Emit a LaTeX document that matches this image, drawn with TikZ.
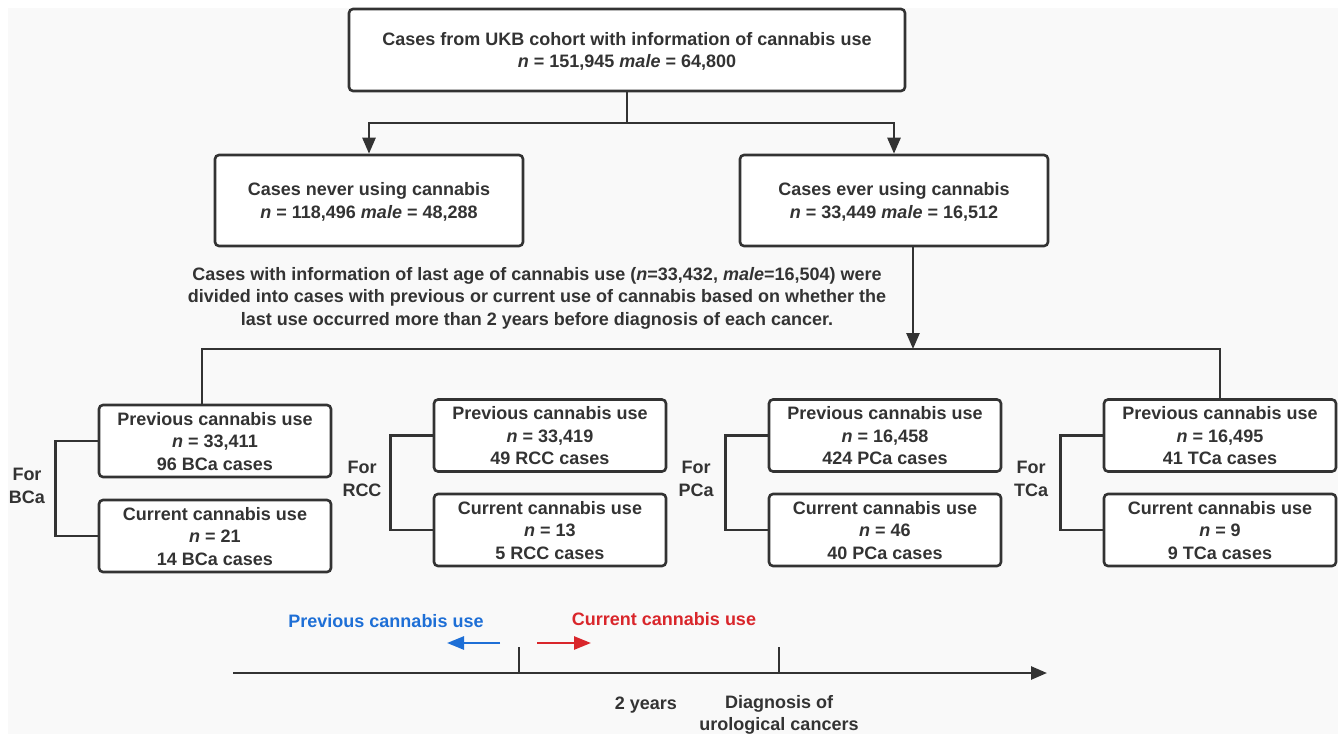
\documentclass[tikz,border=0pt]{standalone}
\usepackage{fontspec}
\setmainfont{Liberation Sans}
\usetikzlibrary{arrows.meta}
\definecolor{ink}{HTML}{333333}
\definecolor{bg}{HTML}{F9F9F9}
\definecolor{myblue}{HTML}{1E6FD6}
\definecolor{myred}{HTML}{D9262B}
\begin{document}
\begin{tikzpicture}[x=1pt,y=-1pt,
 box/.style={draw=ink, line width=2.6pt, rounded corners=4pt, fill=white, align=center, text=ink, font=\bfseries\fontsize{18}{22.5}\selectfont, inner sep=0pt, text depth=-7pt},
 conn/.style={draw=ink, line width=2.6pt},
 arr/.style={conn, -{Triangle[width=13pt,length=16pt]}},
 lbl/.style={text=ink, font=\bfseries\fontsize{18}{22.5}\selectfont, align=center, inner sep=0pt}]
\useasboundingbox (0,0) rectangle (1338,734);
\fill[white] (0,0) rectangle (1338,734);
\fill[bg] (8,8) rectangle (1338,734);
% top level
\node[box, minimum width=556pt, minimum height=82pt] (top) at (627,50) {Cases from UKB cohort with information of cannabis use\\\textit{n} = 151,945 \textit{male} = 64,800};
\node[box, minimum width=308pt, minimum height=91pt] (never) at (369,200.5) {Cases never using cannabis\\\textit{n} = 118,496 \textit{male} = 48,288};
\node[box, minimum width=308pt, minimum height=91pt] (ever) at (894,200.5) {Cases ever using cannabis\\\textit{n} = 33,449 \textit{male} = 16,512};
\coordinate (j1) at (627,123);
\draw[conn] (top.south) -- (j1);
\draw[arr] (j1) -| (never.north);
\draw[arr] (j1) -| (ever.north);
\node[lbl] (para) at (537,298) {Cases with information of last age of cannabis use (\textit{n}=33,432, \textit{male}=16,504) were\\divided into cases with previous or current use of cannabis based on whether the\\last use occurred more than 2 years before diagnosis of each cancer.};
\coordinate (j2) at (913,349);
\draw[arr] ([xshift=19pt]ever.south) -- (j2);
% second level
\node[box, minimum width=232pt, minimum height=72pt] (bp) at (215,441) {Previous cannabis use\\\textit{n} = 33,411\\96 BCa cases};
\node[box, minimum width=232pt, minimum height=72pt] (bc) at (215,536) {Current cannabis use\\\textit{n} = 21\\14 BCa cases};
\node[box, minimum width=232pt, minimum height=72pt] (rp) at (550,435.5) {Previous cannabis use\\\textit{n} = 33,419\\49 RCC cases};
\node[box, minimum width=232pt, minimum height=72pt] (rc) at (550,530) {Current cannabis use\\\textit{n} = 13\\5 RCC cases};
\node[box, minimum width=232pt, minimum height=72pt] (pp) at (885,435.5) {Previous cannabis use\\\textit{n} = 16,458\\424 PCa cases};
\node[box, minimum width=232pt, minimum height=72pt] (pc) at (885,530) {Current cannabis use\\\textit{n} = 46\\40 PCa cases};
\node[box, minimum width=232pt, minimum height=72pt] (tp) at (1220,435.5) {Previous cannabis use\\\textit{n} = 16,495\\41 TCa cases};
\node[box, minimum width=232pt, minimum height=72pt] (tc) at (1220,530) {Current cannabis use\\\textit{n} = 9\\9 TCa cases};
\coordinate (h1) at (202,349);
\coordinate (h2) at (1220,349);
\draw[conn] ([xshift=-13pt]bp.north) -- (h1) -- (h2) -- (tp.north);
% brackets
\draw[conn] (bp.west) -- ++(-42,0) |- (bc.west);
\draw[conn] (rp.west) -- ++(-42,0) |- (rc.west);
\draw[conn] (pp.west) -- ++(-42,0) |- (pc.west);
\draw[conn] (tp.west) -- ++(-42,0) |- (tc.west);
\node[lbl] (fb) at (27,486) {For\\BCa};
\node[lbl] (fr) at (362,479) {For\\RCC};
\node[lbl] (fp) at (696,479) {For\\PCa};
\node[lbl] (ft) at (1031,479) {For\\TCa};
% timeline
\coordinate (t0) at (233,673);
\coordinate (t1) at (1047,673);
\draw[arr] (t0) -- (t1);
\coordinate (k1) at (519,647);
\coordinate (k2) at (779,647);
\draw[conn] (k1) -- (k1 |- t0);
\draw[conn] (k2) -- (k2 |- t0);
\coordinate (b0) at (500,643);
\coordinate (b1) at (447,643);
\coordinate (r0) at (537,643);
\coordinate (r1) at (591,643);
\draw[myblue, line width=2.6pt, -{Triangle[width=13pt,length=17pt]}] (b0) -- (b1);
\draw[myred, line width=2.6pt, -{Triangle[width=13pt,length=17pt]}] (r0) -- (r1);
\node[lbl, text=myblue] (prevlbl) at (386,621) {Previous cannabis use};
\node[lbl, text=myred] (curlbl) at (664,619) {Current cannabis use};
\node[lbl] (yrs) at (646,705) {2 years};
\node[lbl] (diag) at (779,715) {Diagnosis of\\urological cancers};
\end{tikzpicture}
\end{document}
